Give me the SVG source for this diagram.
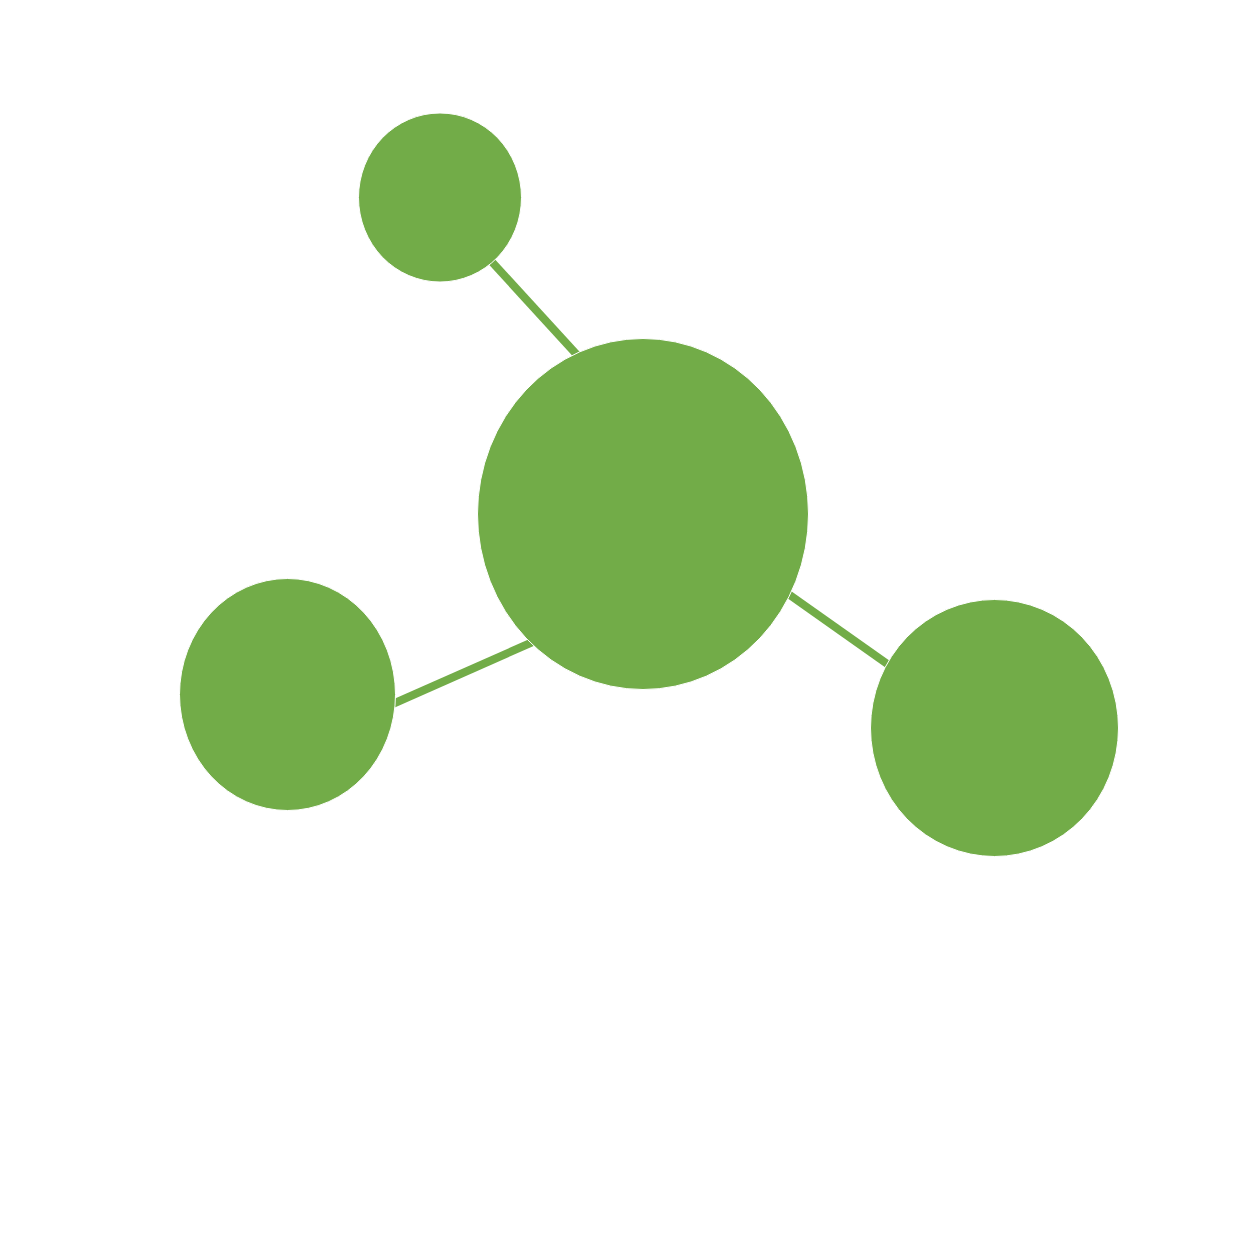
<svg xmlns="http://www.w3.org/2000/svg" width="1260" height="1260" viewBox="0 0 1260 1260">
<style>
.node{fill:#72ac48;stroke:#ffffff;stroke-width:1}
.edge{stroke:#72ac48;stroke-width:8;fill:none}
</style>
<rect width="1260" height="1260" fill="#ffffff"/>
<g id="connectors">
<line class="edge" x1="470" y1="238" x2="600" y2="380"/>
<line class="edge" x1="370" y1="714" x2="560" y2="630"/>
<line class="edge" x1="760" y1="574" x2="910" y2="680"/>
</g>
<g id="node-top"><ellipse class="node" cx="440" cy="197.5" rx="81.5" ry="84.5"/></g>
<g id="node-center"><ellipse class="node" cx="643" cy="514" rx="165.5" ry="175.5"/></g>
<g id="node-left"><ellipse class="node" cx="287.5" cy="694.5" rx="108" ry="116"/></g>
<g id="node-right"><ellipse class="node" cx="994.5" cy="728" rx="124" ry="128.5"/></g>
</svg>
